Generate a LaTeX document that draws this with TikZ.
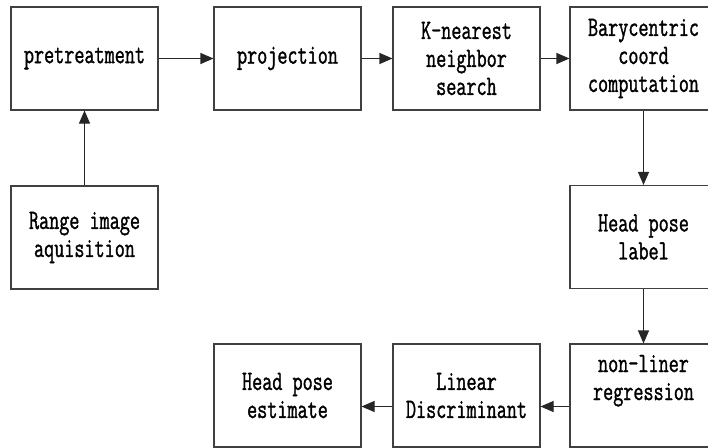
\documentclass[tikz,border=0pt]{standalone}
\usepackage{fontspec}
\usepackage{tikz}
\usetikzlibrary{arrows.meta}
\newfontfamily\boxfont{Latin Modern Mono}[FakeStretch=0.7,FakeBold=1.2]

\begin{document}
\begin{tikzpicture}[x=1pt,y=-1pt,
        stage/.style={draw=black!75,line width=1.1pt,minimum width=147pt,minimum height=103pt,
            inner sep=0pt,align=center,font={\boxfont\fontsize{28}{28}\selectfont}},
        flow/.style={-{Triangle[length=13pt,width=11pt]},line width=1.1pt,black!85}]
        \clip (0,0) rectangle (708,447);
        % top row
        \node[stage] (pre) at (84.5,58.5) {pretreatment};
        \node[stage] (proj) at (287.5,58.5) {projection};
        \node[stage] (knn) at (466.5,58.5) {K-nearest\\neighbor\\search};
        \node[stage] (bary) at (643.5,58.5) {Barycentric\\coord\\computation};
        % middle row
        \node[stage] (acq) at (84.5,237.5) {Range image\\aquisition};
        \node[stage] (label) at (643.5,237) {Head pose\\label};
        % bottom row
        \node[stage] (reg) at (643.5,395.5) {non-liner\\regression\\[8pt]};
        \node[stage] (lda) at (466.5,395.5) {Linear\\Discriminant};
        \node[stage] (est) at (287.5,395.5) {Head pose\\estimate};
        % arrows
        \draw[flow] (acq) -- (pre);
        \draw[flow] (pre) -- (proj);
        \draw[flow] (proj) -- (knn);
        \draw[flow] (knn) -- (bary);
        \draw[flow] (bary) -- (label);
        \draw[flow] (label) -- (reg);
        \draw[flow] ([yshift=-11pt]reg.west) -- ([yshift=-11pt]lda.east);
        \draw[flow] ([yshift=-11pt]lda.west) -- ([yshift=-11pt]est.east);
\end{tikzpicture}
\end{document}
